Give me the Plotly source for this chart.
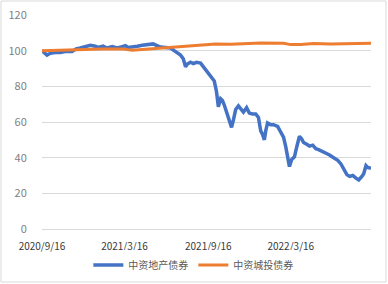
import plotly.graph_objects as go

# 中资地产债券 (blue)
re_dates = ["2020-09-16","2020-09-23","2020-09-27","2020-10-04","2020-10-15","2020-10-26","2020-11-06","2020-11-21",
            "2020-11-30","2020-12-09","2020-12-20","2020-12-31","2021-01-11","2021-01-17","2021-01-28","2021-02-06",
            "2021-02-17","2021-02-28","2021-03-07","2021-03-18","2021-03-24","2021-04-02","2021-04-13","2021-04-24",
            "2021-05-07","2021-05-18","2021-05-25","2021-06-03","2021-06-14","2021-06-25","2021-07-03","2021-07-10",
            "2021-07-17","2021-07-23","2021-07-28","2021-08-01","2021-08-08","2021-08-14","2021-08-21","2021-08-30",
            "2021-09-05","2021-09-12","2021-09-18","2021-09-25","2021-09-29","2021-10-04","2021-10-08","2021-10-13",
            "2021-10-17","2021-10-21","2021-10-26","2021-10-30","2021-11-06","2021-11-10","2021-11-15","2021-11-21",
            "2021-11-28","2021-12-02","2021-12-09","2021-12-15","2021-12-22","2021-12-29","2022-01-04","2022-01-09",
            "2022-01-13","2022-01-17","2022-01-20","2022-01-24","2022-01-31","2022-02-06","2022-02-15","2022-02-22",
            "2022-02-28","2022-03-05","2022-03-09","2022-03-13","2022-03-18","2022-03-24","2022-03-29","2022-04-04",
            "2022-04-09","2022-04-13","2022-04-20","2022-04-26","2022-05-03","2022-05-10","2022-05-16","2022-05-25",
            "2022-06-01","2022-06-09","2022-06-18","2022-06-27","2022-07-04","2022-07-10","2022-07-17","2022-07-23",
            "2022-07-30","2022-08-06","2022-08-12","2022-08-19","2022-08-23","2022-08-28","2022-09-01","2022-09-08"]
re_values = [100,98,97.5,98.5,99,99,99.5,99.5,
             101,101.5,102.5,103,102.5,101.8,102.5,101.5,
             102.3,101.5,102,102.8,101.8,102.3,102.5,103,
             103.5,103.8,103,102,101.8,101.5,100,98.5,
             97.5,95.5,91,92.5,93.5,92.8,93.5,93,
             91,88.5,87,84.5,83,77,68.5,73,
             72,69.5,66,62,57,61,67,69,
             67,65.5,68,65,64.5,64.5,62.5,55,
             53,50,55,59.5,58.5,58.5,57.5,54.5,
             51.5,46,41.5,35,39,40.5,46,52,
             50.5,48.5,47.5,46.5,47,45,44.5,43.5,
             42.5,41.5,40,38.5,36.5,33.5,30.5,29.5,
             30,28.5,27.5,29.5,31,35.5,34.5,34]

# 中资城投债券 (orange)
lg_dates = ["2020-09-16","2020-10-26","2020-12-04","2021-01-26","2021-03-11","2021-04-02","2021-05-01","2021-06-09",
            "2021-07-17","2021-08-30","2021-10-02","2021-11-04","2021-12-07","2022-01-09","2022-02-28","2022-03-16",
            "2022-04-07","2022-05-05","2022-06-12","2022-07-26","2022-09-08"]
lg_values = [100,100.3,100.8,101,101,100.2,100.8,101.6,
             102.2,103.5,103.8,103.6,104,104.3,104.2,103.4,
             103.5,104,103.8,104,104.2]

tick_vals = ["2020-09-16","2021-03-16","2021-09-16","2022-03-16"]
tick_text = ["2020/9/16","2021/3/16","2021/9/16","2022/3/16"]
y_ticks = [0,20,40,60,80,100,120]

font_cjk = "Noto Sans CJK SC, Noto Sans, sans-serif"

fig = go.Figure()
fig.add_trace(go.Scatter(x=re_dates, y=re_values, mode="lines", name="中资地产债券",
                         line=dict(color="#4472C4", width=3.5)))
fig.add_trace(go.Scatter(x=lg_dates, y=lg_values, mode="lines", name="中资城投债券",
                         line=dict(color="#ED7D31", width=3)))

fig.update_layout(
    width=388, height=284,
    margin=dict(l=42, r=17, t=15, b=55, autoexpand=False),
    paper_bgcolor="white", plot_bgcolor="white",
    font=dict(family=font_cjk, color="#595959", size=11),
    showlegend=True,
    legend=dict(orientation="h", x=0.46, xanchor="center", y=-0.168, yanchor="middle",
                font=dict(size=10, color="#595959"), itemwidth=30, tracegroupgap=0),
    xaxis=dict(type="date", range=["2020-09-16","2022-09-08"], tickmode="array",
               tickvals=tick_vals, ticktext=tick_text, showgrid=False,
               showline=True, linecolor="#d9d9d9", linewidth=1,
               ticks="outside", ticklen=8, tickcolor="rgba(0,0,0,0)",
               tickfont=dict(size=10, color="#3a3a3a")),
    yaxis=dict(range=[0,120], tickmode="array", tickvals=y_ticks, showgrid=True,
               gridcolor="#d9d9d9", gridwidth=1, zeroline=False,
               ticks="outside", ticklen=12, tickcolor="rgba(0,0,0,0)",
               tickfont=dict(size=11, color="#7f7f7f")),
    shapes=[dict(type="rect", xref="paper", yref="paper",
                 x0=(1-42)/329, x1=(386-42)/329, y0=(229-282)/214, y1=(229-1)/214,
                 line=dict(color="#d9d9d9", width=1), fillcolor="rgba(0,0,0,0)", layer="below")],
)

fig.write_html("out.html")
